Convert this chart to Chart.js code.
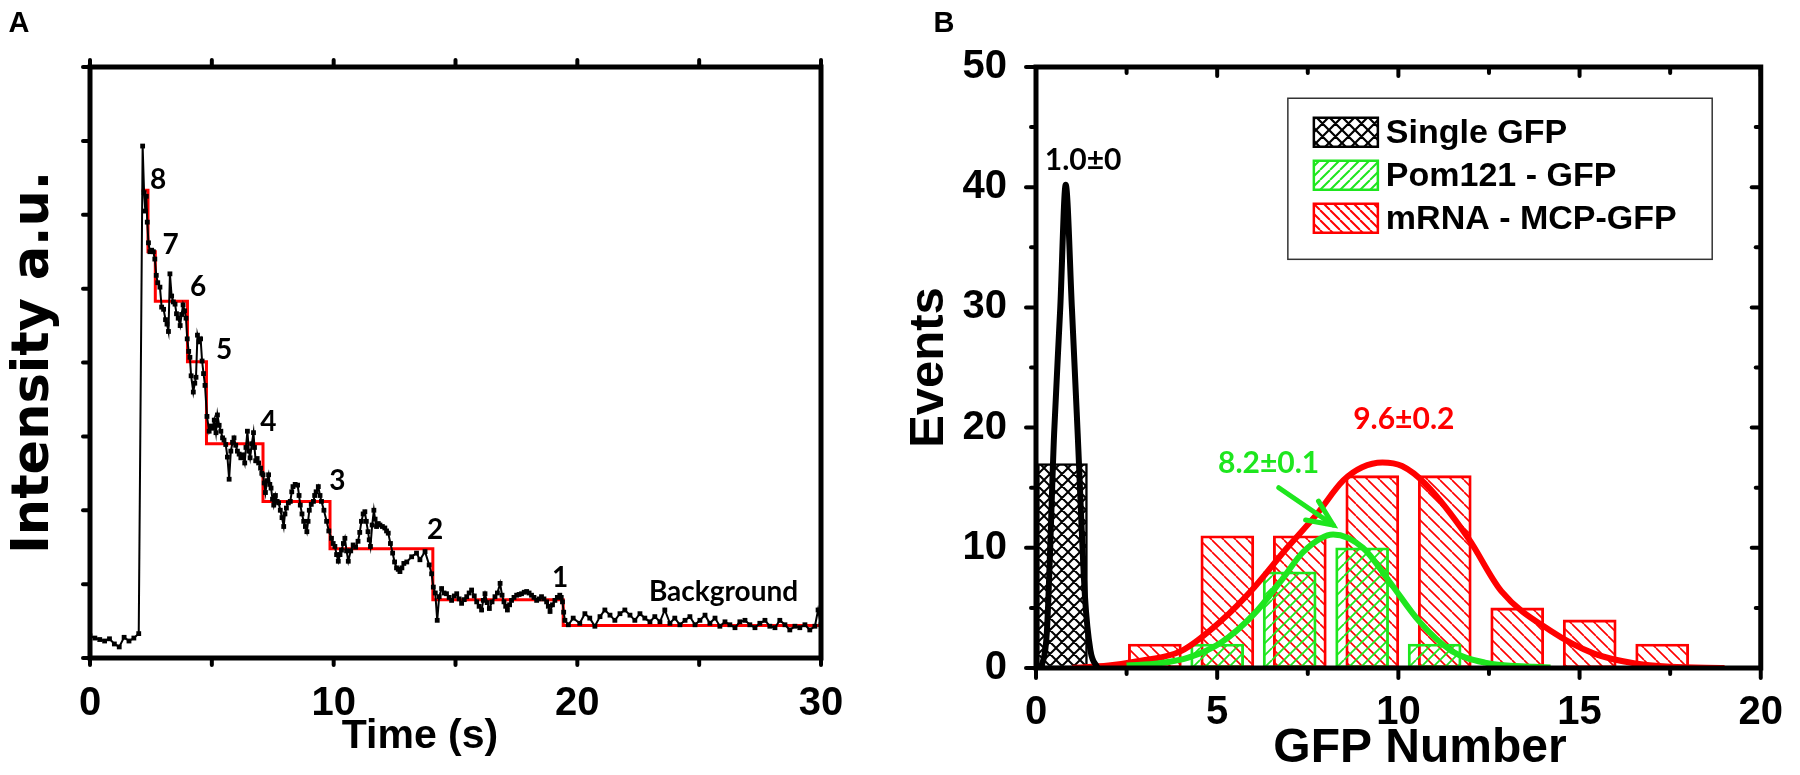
<!DOCTYPE html>
<html>
<head>
<meta charset="utf-8">
<script src="https://cdn.jsdelivr.net/npm/chart.js@4.4.0/dist/chart.umd.min.js"></script>
<style>
  html, body { margin: 0; padding: 0; background: #fff; }
  #wrap { position: relative; width: 1800px; height: 775px; overflow: hidden; background: #fff; }
  canvas { position: absolute; top: 0; }
  #chartA { left: 0; }
  #chartB { left: 900px; }
</style>
</head>
<body>
<div id="wrap">
  <canvas id="chartA" width="900" height="775"></canvas>
  <canvas id="chartB" width="900" height="775"></canvas>
</div>
<script>
// ---------- Panel A: single-spot photobleaching trace ----------
const traceTime = [
  0.0, 0.2, 0.4, 0.6, 0.8, 1.0, 1.2, 1.4, 1.6, 1.8, 2.0,
  2.16, 2.22, 2.27, 2.31, 2.35, 2.40, 2.46, 2.53, 2.60, 2.66,
  2.72, 2.78, 2.87, 2.94, 3.02, 3.10, 3.16, 3.22, 3.28, 3.35,
  3.42, 3.49, 3.55, 3.62, 3.70, 3.76, 3.82, 3.88, 3.94, 3.99,
  4.05, 4.10, 4.15, 4.24, 4.30, 4.35, 4.41, 4.47, 4.54, 4.60,
  4.66, 4.72, 4.80, 4.89, 4.96, 5.03, 5.10, 5.17, 5.23, 5.30,
  5.37, 5.44, 5.50, 5.57, 5.64, 5.71, 5.78, 5.85, 5.91, 5.98,
  6.05, 6.12, 6.19, 6.27, 6.35, 6.40, 6.46, 6.52, 6.57, 6.64,
  6.71, 6.75, 6.80, 6.86, 6.92, 7.00, 7.05, 7.10, 7.15, 7.20,
  7.27, 7.33, 7.38, 7.43, 7.49, 7.54, 7.61, 7.68, 7.74, 7.81,
  7.88, 7.95, 8.00, 8.06, 8.14, 8.22, 8.28, 8.33, 8.42, 8.52,
  8.58, 8.63, 8.70, 8.77, 8.84, 8.90, 8.95, 9.00, 9.08, 9.17,
  9.22, 9.28, 9.37, 9.44, 9.50, 9.60, 9.71, 9.80, 9.91, 9.98,
  10.05, 10.12, 10.19, 10.26, 10.32, 10.40, 10.46, 10.53, 10.60, 10.70,
  10.80, 10.90, 11.00, 11.07, 11.14, 11.21, 11.28, 11.34, 11.41, 11.46,
  11.51, 11.58, 11.65, 11.70, 11.76, 11.83, 11.90, 12.00, 12.10, 12.17,
  12.24, 12.33, 12.42, 12.50, 12.58, 12.65, 12.72, 12.80, 12.88,
  13.00, 13.20, 13.40, 13.54, 13.75, 13.92, 14.02, 14.09, 14.17, 14.25,
  14.33, 14.43, 14.53, 14.63, 14.74, 14.84, 14.95, 15.05, 15.15, 15.25,
  15.36, 15.46, 15.56, 15.66, 15.77, 15.87, 15.97, 16.07, 16.14, 16.21,
  16.30, 16.39, 16.50, 16.62, 16.72, 16.83, 16.91, 16.99, 17.06, 17.13,
  17.22, 17.30, 17.40, 17.51, 17.61, 17.71, 17.82, 17.92, 18.02, 18.12,
  18.22, 18.33, 18.43, 18.53, 18.63, 18.74, 18.81, 18.88, 18.98, 19.08,
  19.18, 19.28, 19.34, 19.39, 19.44, 19.49, 19.63,
  19.83, 20.10, 20.31, 20.51, 20.72, 20.93, 21.13, 21.34, 21.54, 21.75,
  21.95, 22.16, 22.36, 22.57, 22.77, 22.98, 23.18, 23.39, 23.59, 23.80,
  24.00, 24.21, 24.42, 24.62, 24.83, 25.03, 25.24, 25.44, 25.65, 25.85,
  26.06, 26.26, 26.47, 26.67, 26.88, 27.08, 27.29, 27.49, 27.70, 27.90,
  28.11, 28.31, 28.52, 28.72, 28.93, 29.13, 29.34, 29.54, 29.75, 29.88,
  30.00
];
const traceIntensity = [
  0.30, 0.27, 0.25, 0.23, 0.26, 0.19, 0.15, 0.28, 0.23, 0.27, 0.33,
  6.93, 6.30, 6.05, 6.25, 5.90, 5.62, 5.50, 5.52, 5.50, 5.40,
  5.18, 5.08, 5.02, 4.75, 4.72, 4.58, 4.52, 4.42, 5.20, 4.90,
  4.82, 4.79, 4.66, 4.60, 4.50, 4.65, 4.78, 4.70, 4.60, 4.32,
  4.15, 4.07, 3.82, 3.60, 3.72, 3.80, 4.37, 4.28, 4.32, 4.02,
  3.85, 3.69, 3.27, 3.07, 3.14, 3.11, 3.22, 3.05, 3.29, 3.15,
  3.07, 2.98, 2.95, 2.89, 2.72, 2.42, 2.80, 2.92, 2.98, 2.88,
  2.80, 2.76, 2.71, 2.75, 2.64, 2.85, 3.07, 2.80, 2.71, 2.90,
  3.05, 2.85, 2.67, 2.70, 2.64, 2.57, 2.50, 2.48, 2.37, 2.24,
  2.40, 2.48, 2.35, 2.30, 2.15, 2.07, 2.20, 2.12, 2.10, 2.00,
  1.90, 1.78, 1.95, 2.03, 2.10, 2.12, 2.25, 2.32, 2.35, 2.34,
  2.20, 2.07, 1.95, 1.85, 1.78, 1.71, 1.85, 2.00, 2.08, 2.12,
  2.20, 2.25, 2.32, 2.20, 2.12, 2.00, 1.85, 1.72, 1.62, 1.55,
  1.51, 1.40, 1.31, 1.40, 1.46, 1.55, 1.62, 1.45, 1.31, 1.45,
  1.53, 1.50, 1.58, 1.70, 1.85, 1.95, 1.98, 1.85, 1.71, 1.60,
  1.51, 1.80, 2.00, 1.88, 1.78, 1.82, 1.80, 1.78, 1.76, 1.72,
  1.69, 1.55, 1.42, 1.30, 1.22, 1.20, 1.17, 1.22, 1.28,
  1.30, 1.37, 1.42, 1.33, 1.44, 1.26, 1.14, 0.96, 0.88, 0.51,
  0.83, 0.94, 0.88, 0.87, 0.82, 0.78, 0.84, 0.87, 0.80, 0.74,
  0.79, 0.83, 0.88, 0.92, 0.84, 0.76, 0.70, 0.65, 0.78, 0.87,
  0.75, 0.67, 0.76, 0.83, 0.88, 1.01, 0.85, 0.76, 0.70, 0.65,
  0.72, 0.78, 0.82, 0.85, 0.86, 0.87, 0.89, 0.90, 0.88, 0.85,
  0.82, 0.78, 0.80, 0.83, 0.80, 0.76, 0.70, 0.63, 0.72, 0.78,
  0.82, 0.85, 0.82, 0.76, 0.62, 0.51, 0.45,
  0.54, 0.47, 0.60, 0.54, 0.43, 0.56, 0.65, 0.58, 0.51, 0.60,
  0.65, 0.58, 0.51, 0.60, 0.54, 0.49, 0.56, 0.49, 0.65, 0.47,
  0.54, 0.45, 0.51, 0.56, 0.45, 0.51, 0.58, 0.47, 0.54, 0.43,
  0.49, 0.45, 0.41, 0.49, 0.51, 0.45, 0.41, 0.47, 0.51, 0.43,
  0.41, 0.51, 0.45, 0.38, 0.43, 0.41, 0.45, 0.38, 0.43, 0.65,
  0.45
];
// step fit: each level holds from its start time until the next one
const fitStepStart = [2.12, 2.38, 2.68, 4.0, 4.78, 7.1, 9.85, 14.07, 19.42, 30];
const fitStepLevel = [6.33, 5.5, 4.83, 4.01, 2.9, 2.12, 1.48, 0.79, 0.44, 0.44];
const stepLabels = ['8', '7', '6', '5', '4', '3', '2', '1', 'Background'];
const stepLabelTime = [2.8, 3.31, 4.44, 5.5, 7.32, 10.15, 14.16, 19.29, 26.0];
const stepLabelLevel = [6.47, 5.59, 5.02, 4.17, 3.2, 2.39, 1.73, 1.08, 0.9];
const timeMarks = [0, 5, 10, 15, 20, 25, 30];
const intensityMarks = [0, 1, 2, 3, 4, 5, 6, 7, 8];

// ---------- Panel B: GFP number histograms ----------
const singleBin = [0.73];
const singleEvents = [17];
const pomBin = [5, 7, 9, 11];
const pomEvents = [2, 8, 10, 2];
const mrnaBin = [3.28, 5.28, 7.28, 9.28, 11.28, 13.28, 15.28, 17.28];
const mrnaEvents = [2, 11, 11, 16, 16, 5, 4, 2];
const singleFitX = [0.15, 0.3, 0.5, 0.67, 0.82, 0.99, 1.15, 1.35, 1.5, 1.7];
const singleFitY = [0, 3, 19.5, 30, 40.2, 30, 19.5, 6, 1.5, 0];
const pomFitX = [2.5, 3.4, 4.2, 5.1, 6.02, 6.75, 7.39, 8.2, 9.02, 9.75, 10.57, 11.48, 12.39, 13.75, 14.2];
const pomFitY = [0.2, 0.4, 0.86, 2.1, 4.5, 7.2, 9.7, 11.1, 10.0, 7.2, 3.9, 1.4, 0.45, 0.1, 0.05];
const mrnaFitX = [1.0, 2.0, 2.84, 4.0, 5.1, 6.02, 6.93, 7.75, 8.48, 9.0, 9.56, 10.1, 10.75, 11.93, 12.84, 14.2, 15.4, 16.5, 17.5, 19.0];
const mrnaFitY = [0.02, 0.2, 0.58, 1.4, 3.9, 6.7, 10.0, 12.8, 15.6, 16.7, 17.1, 16.8, 15.3, 10.8, 6.4, 3.1, 1.2, 0.4, 0.1, 0.0];
const peakLabels = ['1.0±0', '8.2±0.1', '9.6±0.2'];
const peakLabelX = [1.3, 6.42, 10.15];
const peakLabelY = [42.2, 17.0, 20.7];
const arrowFrom = [6.7, 15.0];
const arrowTo = [8.2, 11.9];
const gfpMarks = [0, 2.5, 5, 7.5, 10, 12.5, 15, 17.5, 20];
const eventMarks = [0, 5, 10, 15, 20, 25, 30, 35, 40, 45, 50];

const FONT = '"Liberation Sans", Arial, sans-serif';
const WIDE_FONT = '"DejaVu Sans", "Liberation Sans", sans-serif';
const NOTE_FONT = 'Lato, "Liberation Sans", sans-serif';
const RED = '#ff0000';
const GREEN = '#1ee61e';

const pts = (xs, ys) => xs.map((x, i) => ({ x, y: ys[i] }));

function makeHatch(ctx, color, kind, gap, lw, bg) {
  const c = document.createElement('canvas');
  c.width = gap; c.height = gap;
  const g = c.getContext('2d');
  if (bg) { g.fillStyle = bg; g.fillRect(0, 0, gap, gap); }
  g.strokeStyle = color; g.lineWidth = lw;
  g.beginPath();
  for (let k = -1; k <= 1; k++) {
    if (kind === '/' || kind === 'x') { g.moveTo(k * gap, gap); g.lineTo(k * gap + gap, 0); }
    if (kind === '\\' || kind === 'x') { g.moveTo(k * gap, 0); g.lineTo(k * gap + gap, gap); }
  }
  g.stroke();
  return ctx.createPattern(c, 'repeat');
}

// thick box frame + tick marks (negative length = inward)
const framePlugin = {
  id: 'frame',
  afterDatasetsDraw(chart, args, o) {
    const { ctx, chartArea: a } = chart;
    const xs = chart.scales.x, ys = chart.scales.y;
    ctx.save();
    ctx.strokeStyle = '#000';
    ctx.lineCap = 'round';
    ctx.lineWidth = o.tickWidth;
    const seg = (x1, y1, x2, y2) => { ctx.beginPath(); ctx.moveTo(x1, y1); ctx.lineTo(x2, y2); ctx.stroke(); };
    (o.bottom || []).forEach(([v, l]) => { const p = xs.getPixelForValue(v); seg(p, a.bottom, p, a.bottom + l); });
    (o.top || []).forEach(([v, l]) => { const p = xs.getPixelForValue(v); seg(p, a.top, p, a.top - l); });
    (o.left || []).forEach(([v, l]) => { const p = ys.getPixelForValue(v); seg(a.left, p, a.left - l, p); });
    (o.right || []).forEach(([v, l]) => { const p = ys.getPixelForValue(v); seg(a.right, p, a.right + l, p); });
    ctx.lineCap = 'butt';
    ctx.lineWidth = o.width;
    ctx.strokeRect(a.left, a.top, a.right - a.left, a.bottom - a.top);
    ctx.restore();
  }
};

// text notes placed in data coordinates, plus panel tag / x title in pixels
const notesPlugin = {
  id: 'notes',
  afterDatasetsDraw(chart, args, o) {
    const { ctx } = chart;
    const xs = chart.scales.x, ys = chart.scales.y;
    ctx.save();
    ctx.textAlign = 'center';
    ctx.textBaseline = 'middle';
    o.items.forEach(it => {
      ctx.font = it.font;
      ctx.fillStyle = it.color;
      ctx.fillText(it.text, xs.getPixelForValue(it.x), ys.getPixelForValue(it.y));
    });
    ctx.fillStyle = '#000';
    (o.fixed || []).forEach(it => {
      ctx.font = it.font;
      ctx.fillText(it.text, it.x, it.y);
    });
    ctx.restore();
  }
};

const arrowPlugin = {
  id: 'arrow',
  afterDatasetsDraw(chart, args, o) {
    if (!o.from) return;
    const { ctx } = chart;
    const xs = chart.scales.x, ys = chart.scales.y;
    const x1 = xs.getPixelForValue(o.from[0]), y1 = ys.getPixelForValue(o.from[1]);
    const x2 = xs.getPixelForValue(o.to[0]), y2 = ys.getPixelForValue(o.to[1]);
    const ang = Math.atan2(y2 - y1, x2 - x1);
    ctx.save();
    ctx.strokeStyle = o.color; ctx.lineWidth = 5; ctx.lineCap = 'round'; ctx.lineJoin = 'miter';
    ctx.beginPath(); ctx.moveTo(x1, y1); ctx.lineTo(x2, y2); ctx.stroke();
    ctx.beginPath();
    ctx.moveTo(x2 - 28 * Math.cos(ang - 0.42), y2 - 28 * Math.sin(ang - 0.42));
    ctx.lineTo(x2, y2);
    ctx.lineTo(x2 - 28 * Math.cos(ang + 0.42), y2 - 28 * Math.sin(ang + 0.42));
    ctx.stroke();
    ctx.restore();
  }
};

const boxLegend = {
  id: 'boxLegend',
  afterDraw(chart, args, o) {
    if (!o.box) return;
    const { ctx } = chart;
    const xs = chart.scales.x, ys = chart.scales.y;
    const L = xs.getPixelForValue(o.box[0]), R = xs.getPixelForValue(o.box[1]);
    const T = ys.getPixelForValue(o.box[2]), B = ys.getPixelForValue(o.box[3]);
    ctx.save();
    ctx.fillStyle = '#fff';
    ctx.fillRect(L, T, R - L, B - T);
    ctx.strokeStyle = '#333'; ctx.lineWidth = 1.5;
    ctx.strokeRect(L, T, R - L, B - T);
    const entries = chart.data.datasets.filter(d => d.legendPattern);
    entries.forEach((d, i) => {
      const cy = T + 34 + i * 43;
      const sx = L + 26;
      ctx.fillStyle = '#fff'; ctx.fillRect(sx, cy - 14.5, 64, 29);
      ctx.fillStyle = d.legendPattern; ctx.fillRect(sx, cy - 14.5, 64, 29);
      ctx.strokeStyle = d.borderColor; ctx.lineWidth = 2.5; ctx.strokeRect(sx, cy - 14.5, 64, 29);
      ctx.fillStyle = '#000';
      ctx.font = 'bold 34px ' + FONT;
      ctx.textAlign = 'left'; ctx.textBaseline = 'middle';
      ctx.fillText(d.label, sx + 72, cy + 1);
    });
    ctx.restore();
  }
};

const tickFont = { family: FONT, size: 40, weight: 'bold', lineHeight: 1 };

// ---------- Chart A ----------
new Chart(document.getElementById('chartA'), {
  type: 'line',
  data: {
    datasets: [
      {
        label: 'Intensity',
        data: pts(traceTime, traceIntensity),
        borderColor: '#000', borderWidth: 2,
        pointStyle: 'rect', pointRadius: 3.4, pointBackgroundColor: '#000', pointBorderWidth: 0,
        tension: 0, order: 1
      },
      {
        label: 'Step fit',
        data: pts(fitStepStart, fitStepLevel),
        stepped: 'before', borderColor: RED, borderWidth: 3, pointRadius: 0, order: 2
      }
    ]
  },
  options: {
    responsive: false, animation: false, events: [],
    layout: { padding: { left: 0, top: 67, right: 79, bottom: 0 } },
    plugins: {
      legend: { display: false }, tooltip: { enabled: false },
      frame: {
        width: 5, tickWidth: 4,
        bottom: timeMarks.map(v => [v, 7]),
        top: timeMarks.map(v => [v, 7]),
        left: intensityMarks.map(v => [v, 7])
      },
      notes: {
        items: stepLabels.map((t, i) => ({
          text: t, x: stepLabelTime[i], y: stepLabelLevel[i], color: '#000',
          font: 'bold 28px ' + NOTE_FONT
        })),
        fixed: [
          { text: 'A', x: 19, y: 24, font: 'bold 29px ' + FONT },
          { text: 'Time (s)', x: 420, y: 737, font: 'bold 41px ' + FONT }
        ]
      }
    },
    scales: {
      x: {
        type: 'linear', min: 0, max: 30,
        afterFit: s => { s.height = 117; },
        grid: { display: false }, border: { display: false },
        ticks: { stepSize: 10, autoSkip: false, maxRotation: 0, padding: 18, color: '#000', font: tickFont }
      },
      y: {
        min: 0, max: 8,
        afterFit: s => { s.width = 90; },
        grid: { display: false }, border: { display: false },
        ticks: { display: false },
        title: { display: true, text: 'Intensity a.u.', color: '#000',
                 font: { family: WIDE_FONT, size: 51, weight: 'bold', lineHeight: 1 }, padding: { top: 9, bottom: 0 } }
      }
    }
  },
  plugins: [framePlugin, notesPlugin]
});

// ---------- Chart B ----------
const ctxB = document.getElementById('chartB').getContext('2d');
const fitLine = { type: 'line', pointRadius: 0, borderWidth: 6, tension: 0.35, cubicInterpolationMode: 'monotone', fill: false };
const barBase = { grouped: false, borderSkipped: false, borderWidth: 2.2 };

new Chart(ctxB, {
  type: 'bar',
  data: {
    datasets: [
      { ...fitLine, label: 'Single GFP fit', data: pts(singleFitX, singleFitY), borderColor: '#000', order: 1 },
      { ...fitLine, label: 'Pom121 fit', data: pts(pomFitX, pomFitY), borderColor: GREEN, order: 2 },
      { ...fitLine, label: 'mRNA fit', data: pts(mrnaFitX, mrnaFitY), borderColor: RED, order: 3 },
      {
        ...barBase, label: 'Single GFP', data: pts(singleBin, singleEvents),
        backgroundColor: makeHatch(ctxB, '#000', 'x', 12, 2, '#fff'),
        legendPattern: makeHatch(ctxB, '#000', 'x', 13, 2.2, '#fff'),
        borderColor: '#000', borderWidth: 2.5, barThickness: 50, order: 4
      },
      {
        ...barBase, label: 'Pom121 - GFP', data: pts(pomBin, pomEvents),
        backgroundColor: makeHatch(ctxB, GREEN, '/', 12, 1.8),
        legendPattern: makeHatch(ctxB, GREEN, '/', 10, 2),
        borderColor: GREEN, barThickness: 53, order: 5
      },
      {
        ...barBase, label: 'mRNA - MCP-GFP', data: pts(mrnaBin, mrnaEvents),
        backgroundColor: makeHatch(ctxB, RED, '\\', 12, 1.6),
        legendPattern: makeHatch(ctxB, RED, '\\', 10, 2),
        borderColor: RED, barThickness: 53, order: 6
      }
    ]
  },
  options: {
    responsive: false, animation: false, events: [],
    layout: { padding: { left: 0, top: 67, right: 31, bottom: 0 } },
    plugins: {
      legend: { display: false }, tooltip: { enabled: false },
      frame: {
        width: 5, tickWidth: 4,
        bottom: gfpMarks.map(v => [v, v % 5 === 0 ? 10 : 6]),
        top: gfpMarks.map(v => [v, v % 5 === 0 ? -9 : -6]),
        left: eventMarks.map(v => [v, v % 10 === 0 ? 10 : 5]),
        right: eventMarks.map(v => [v, v % 10 === 0 ? -9 : -5])
      },
      notes: {
        items: peakLabels.map((t, i) => ({
          text: t, x: peakLabelX[i], y: peakLabelY[i],
          color: ['#000', GREEN, RED][i], font: 'bold 30px ' + NOTE_FONT
        })),
        fixed: [
          { text: 'B', x: 44, y: 24, font: 'bold 29px ' + FONT },
          { text: 'GFP Number', x: 520, y: 749, font: 'bold 48px ' + FONT }
        ]
      },
      arrow: { from: arrowFrom, to: arrowTo, color: GREEN },
      boxLegend: { box: [6.95, 18.66, 47.4, 34.0] }
    },
    scales: {
      x: {
        type: 'linear', min: 0, max: 20, offset: false,
        afterFit: s => { s.height = 107; },
        grid: { display: false, offset: false }, border: { display: false },
        ticks: { stepSize: 5, autoSkip: false, maxRotation: 0, padding: 17, color: '#000', font: tickFont }
      },
      y: {
        min: 0, max: 50,
        afterFit: s => { s.width = 136; },
        grid: { display: false }, border: { display: false },
        ticks: { stepSize: 10, padding: 21, color: '#000', font: tickFont },
        title: { display: true, text: 'Events', color: '#000',
                 font: { family: FONT, size: 49, weight: 'bold', lineHeight: 1 }, padding: { top: 5, bottom: 0 } }
      }
    }
  },
  plugins: [framePlugin, notesPlugin, arrowPlugin, boxLegend]
});
</script>
</body>
</html>
